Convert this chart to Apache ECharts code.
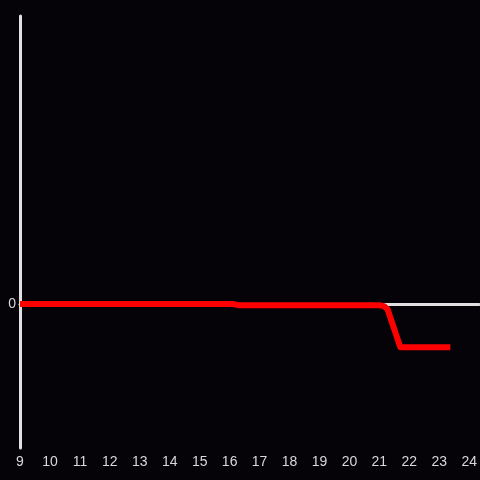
<!DOCTYPE html>
<html>
<head>
<meta charset="utf-8">
<script src="https://cdn.jsdelivr.net/npm/echarts@6/dist/echarts.min.js"></script>
<style>html,body{margin:0;padding:0;background:#050308;}#c{width:480px;height:480px;}</style>
</head>
<body>
<div id="c"></div>
<script>
var xValues = [9, 16.1, 16.3, 21.0, 21.15, 21.27, 21.7, 23.37];
var yValues = [0, 0, -0.008, -0.008, -0.015, -0.035, -0.30, -0.30];
var xMin = 9, xMax = 24.333;
var yMin = -1, yMax = 2;

var chart = echarts.init(document.getElementById('c'));
chart.setOption({
  backgroundColor: '#050308',
  animation: false,
  grid: {left: 20, right: 0, top: 16, bottom: 32},
  xAxis: [{
    type: 'value', min: xMin, max: xMax, interval: 1,
    axisLine: {show: false, onZero: false},
    axisTick: {show: false},
    splitLine: {show: false},
    axisLabel: {color: '#d8d8d8', fontSize: 14, margin: 7, fontFamily: 'Liberation Sans, Arial, sans-serif',
      showMaxLabel: false, formatter: function (v) { return Math.abs(v - Math.round(v)) < 1e-6 ? String(Math.round(v)) : ''; }}
  }, {
    type: 'value', min: xMin, max: xMax, interval: 1,
    axisLine: {show: true, onZero: true, onZeroAxisIndex: 0, lineStyle: {color: '#e0e0e0', width: 3}},
    axisTick: {show: false}, axisLabel: {show: false}, splitLine: {show: false}
  }],
  yAxis: {
    type: 'value', min: yMin, max: yMax, interval: 1,
    axisLine: {show: true, lineStyle: {color: '#e0e0e0', width: 3}},
    axisTick: {show: false},
    splitLine: {show: false},
    axisLabel: {color: '#d8d8d8', fontSize: 14, margin: 4, padding: [3, 0, 0, 0], fontFamily: 'Liberation Sans, Arial, sans-serif',
      formatter: function (v) { return v === 0 ? '0' : ''; }}
  },
  series: [{
    type: 'line',
    xAxisIndex: 0,
    data: xValues.map(function (x, i) { return [x, yValues[i]]; }),
    showSymbol: false,
    lineStyle: {color: '#ff0000', width: 6, cap: 'butt', join: 'round'},
    itemStyle: {color: '#ff0000'},
    z: 5
  }]
});
</script>
</body>
</html>
